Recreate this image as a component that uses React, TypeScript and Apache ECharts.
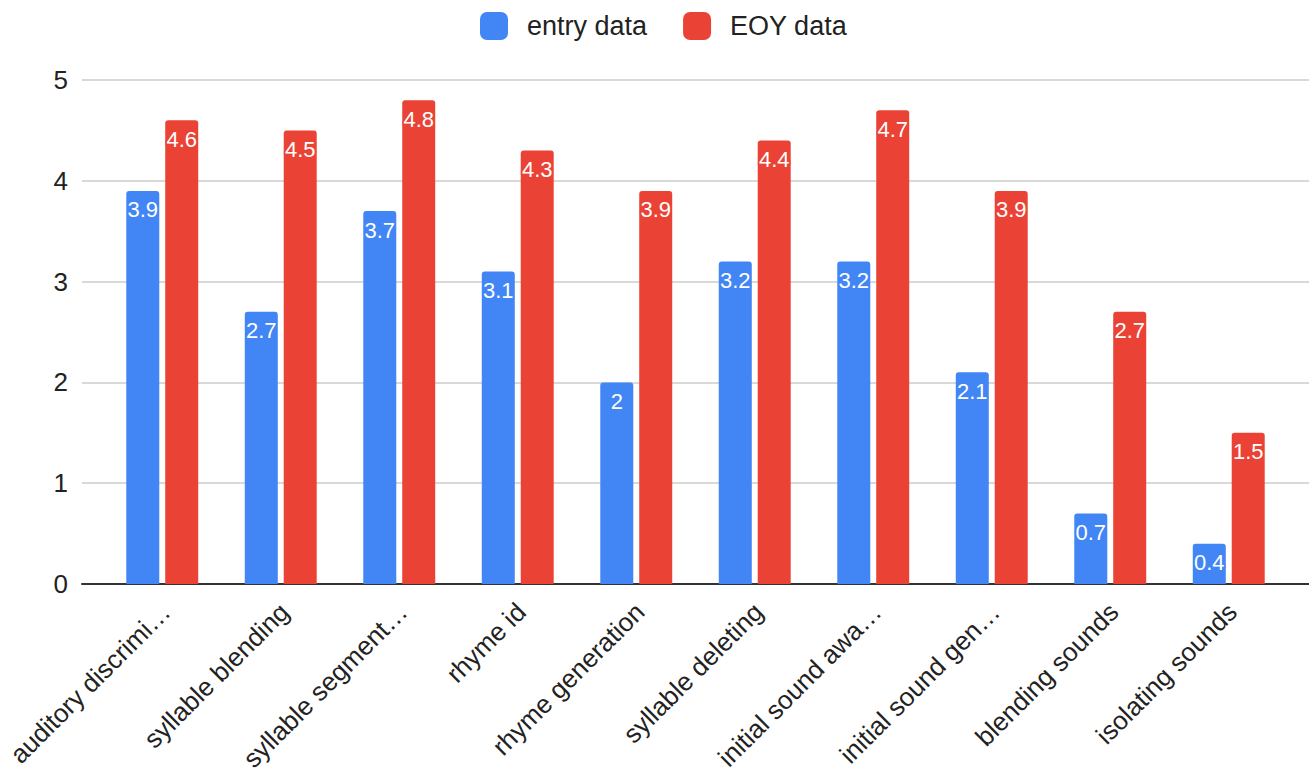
import React, { useEffect, useRef } from "react";
import * as echarts from "echarts";

const categories = [
  "auditory discrimi…",
  "syllable blending",
  "syllable segment…",
  "rhyme id",
  "rhyme generation",
  "syllable deleting",
  "initial sound awa…",
  "initial sound gen…",
  "blending sounds",
  "isolating sounds",
];
const entryData = [3.9, 2.7, 3.7, 3.1, 2, 3.2, 3.2, 2.1, 0.7, 0.4];
const eoyData = [4.6, 4.5, 4.8, 4.3, 3.9, 4.4, 4.7, 3.9, 2.7, 1.5];
const seriesNames = ["entry data", "EOY data"];
const BLUE = "#4285F4";
const RED = "#EA4335";
const FONT = "Liberation Sans, Arial, sans-serif";

export default function App() {
  const ref = useRef<HTMLDivElement>(null);
  useEffect(() => {
    if (!ref.current) return;
    const chart = echarts.init(ref.current, null, { renderer: "svg" });
    const barLabel = (color: string) => ({
      show: true,
      position: "insideTop" as const,
      distance: 8,
      color: "#fff",
      fontSize: 22,
      fontFamily: FONT,
      textBorderColor: color,
      textBorderWidth: 3,
    });
    chart.setOption({
      animation: false,
      textStyle: { fontFamily: FONT },
      legend: {
        top: 7,
        left: 475,
        itemWidth: 28,
        itemHeight: 28,
        itemGap: 36,
        icon: "roundRect",
        textStyle: { fontSize: 27, color: "#222", fontFamily: FONT, padding: [0, 0, 0, 14] },
        data: seriesNames,
      },
      grid: [
        { left: 82, right: 0, top: 80, bottom: 189, outerBoundsMode: "none" },
        { left: 103, right: 21, top: 80, bottom: 189, outerBoundsMode: "none" },
      ],
      xAxis: [
        {
          type: "value",
          gridIndex: 0,
          min: 0,
          max: 1,
          axisLabel: { show: false },
          axisTick: { show: false },
          splitLine: { show: false },
          axisLine: { show: true, onZero: false, lineStyle: { color: "#333", width: 2 } },
        },
        {
          type: "category",
          gridIndex: 1,
          data: categories,
          axisLine: { show: false },
          axisTick: { show: false },
          axisLabel: {
            rotate: 45,
            interval: 0,
            margin: 20,
            fontSize: 26,
            lineHeight: 10,
            verticalAlign: "top",
            color: "#222",
            fontFamily: FONT,
          },
        },
      ],
      yAxis: [
        {
          type: "value",
          gridIndex: 0,
          min: 0,
          max: 5,
          interval: 1,
          axisLine: { show: false },
          axisTick: { show: false },
          axisLabel: { fontSize: 26, color: "#222", margin: 14, fontFamily: FONT },
          splitLine: { lineStyle: { color: "#cccccc", width: 1.5 } },
        },
        {
          type: "value",
          gridIndex: 1,
          min: 0,
          max: 5,
          interval: 1,
          show: false,
          splitLine: { show: false },
        },
      ],
      series: [
        {
          name: seriesNames[0],
          type: "bar",
          xAxisIndex: 1,
          yAxisIndex: 1,
          data: entryData,
          barWidth: 33,
          barGap: "18%",
          itemStyle: { color: BLUE, borderRadius: [3, 3, 0, 0] },
          label: barLabel(BLUE),
        },
        {
          name: seriesNames[1],
          type: "bar",
          xAxisIndex: 1,
          yAxisIndex: 1,
          data: eoyData,
          barWidth: 33,
          barGap: "18%",
          itemStyle: { color: RED, borderRadius: [3, 3, 0, 0] },
          label: barLabel(RED),
        },
      ],
    });
    return () => chart.dispose();
  }, []);
  return (
    <div
      ref={ref}
      style={{ position: "absolute", left: 0, top: 0, width: 1309, height: 773, background: "#fff" }}
    />
  );
}
